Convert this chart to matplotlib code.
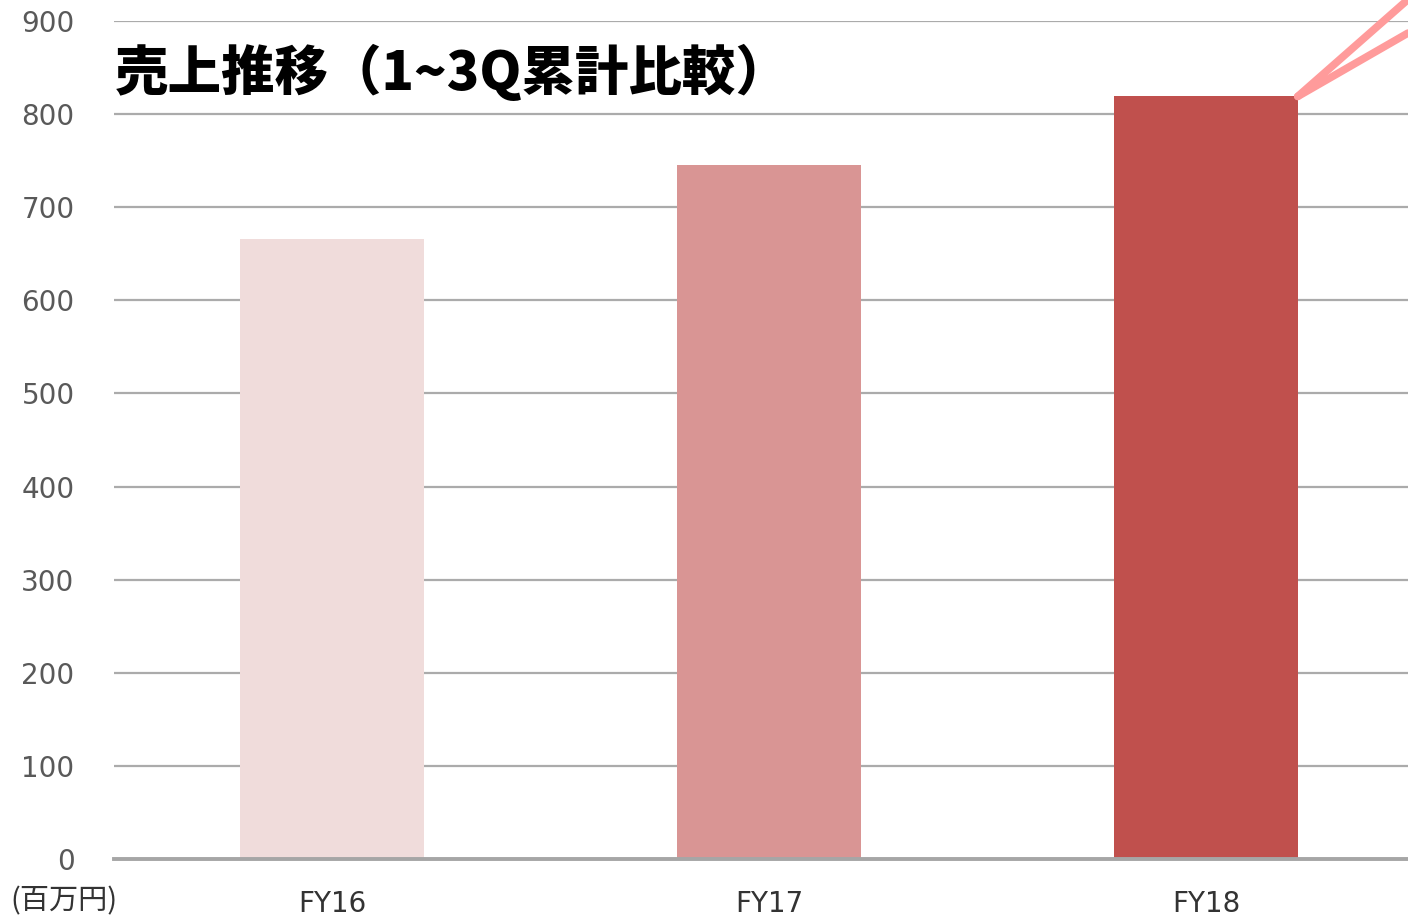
import matplotlib
matplotlib.use("Agg")
import matplotlib.pyplot as plt

plt.rcParams['font.family'] = ['Noto Sans CJK JP', 'DejaVu Sans']

categories = ["FY16", "FY17", "FY18"]
sales = [666, 745, 819]
bar_colors = ["#F0DCDB", "#D99594", "#C0504D"]
yticks = [0, 100, 200, 300, 400, 500, 600, 700, 800, 900]
title = "売上推移（1~3Q累計比較）"
unit_label = "(百万円)"

W, H = 1408, 917
fig = plt.figure(figsize=(W / 100, H / 100), dpi=100)
left = 113.5 / W
right_px = 113.5 + 3 * 437
bottom = (H - 859) / H
top = (H - 21) / H
ax = fig.add_axes([left, bottom, (right_px - 113.5) / W, top - bottom])

x = list(range(len(categories)))
bw = 0.42
ax.bar(x, sales, width=bw, color=bar_colors, zorder=3)
ax.set_xlim(-0.5, 2.5)
ax.set_ylim(0, 900)
ax.set_yticks(yticks)
ax.set_yticklabels([str(v) for v in yticks])
ax.yaxis.grid(True, color="#ABABAB", linewidth=1.6, zorder=1)
ax.set_axisbelow(True)
for s in ["top", "right", "left"]:
    ax.spines[s].set_visible(False)
ax.spines["bottom"].set_color("#A6A6A6")
ax.spines["bottom"].set_linewidth(2.8)
ax.spines["bottom"].set_zorder(4)
ax.tick_params(axis="y", length=0, pad=28, labelsize=20, labelcolor="#595959")
ax.tick_params(axis="x", length=0, pad=22, labelsize=20, labelcolor="#333333")
ax.set_xticks(x)
ax.set_xticklabels(categories)
for lab in ax.get_yticklabels() + ax.get_xticklabels():
    lab.set_family(["DejaVu Sans"])

# unit label
fig.text(10 / W, 1 - 901 / H, unit_label, fontsize=21, color="#333333",
         ha="left", va="center")

# title
fig.text(115 / W, 1 - 72 / H, title, fontsize=38.5, fontweight="heavy",
         color="#000000", ha="left", va="center")

# pink callout lines from FY18 bar's top-right corner
x0 = x[2] + bw / 2
y0 = sales[2]
for dx, dy in [(0.252, 104), (0.252, 68)]:
    ax.plot([x0, x0 + dx], [y0, y0 + dy], color="#FF9B9B", linewidth=5.5,
            solid_capstyle="round", clip_on=False, zorder=5)

fig.savefig("out.png", dpi=100)
